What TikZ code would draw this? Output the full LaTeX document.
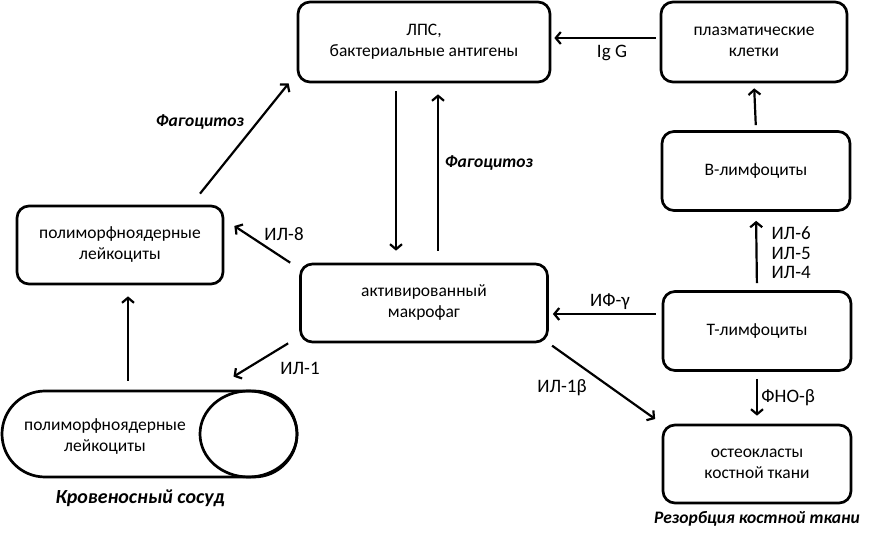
\documentclass[tikz,border=0pt]{standalone}
\usepackage{fontspec}
\setmainfont{Carlito}
\usetikzlibrary{arrows.meta,shapes.geometric}

\begin{document}
\begin{tikzpicture}[x=1pt,y=-1pt,
  box/.style={draw,line width=2.7pt,rounded corners=12pt,align=center,font=\fontsize{17.5}{21}\selectfont},
  arr/.style={line width=2.2pt,-{Straight Barb[length=5pt,width=12pt]}},
  lab/.style={font=\fontsize{19}{21}\selectfont},
  ital/.style={font=\fontsize{17.5}{19}\selectfont\bfseries\itshape}]
\useasboundingbox (0,0) rectangle (884,537);
% boxes
\node[box,minimum width=252,minimum height=80] (lps) at (424,42) {ЛПС,\\бактериальные антигены};
\node[box,minimum width=186,minimum height=80] (plasma) at (754,42) {плазматические\\клетки};
\node[box,minimum width=188,minimum height=79] (blym) at (756,171) {В-лимфоциты};
\node[box,minimum width=188,minimum height=79] (tlym) at (757,331) {Т-лимфоциты};
\node[box,minimum width=188,minimum height=78] (osteo) at (757,464) {остеокласты\\костной ткани};
\node[box,minimum width=247,minimum height=78] (macro) at (424,303) {активированный\\макрофаг};
\node[box,minimum width=206,minimum height=78] (pmn) at (120,245) {полиморфноядерные\\лейкоциты};
% vessel
\node[draw,line width=2.7pt,rounded corners=43pt,minimum width=295,minimum height=86] (vessel) at (149.5,434) {};
\node[draw,line width=2.7pt,ellipse,minimum width=97,minimum height=86] (lumen) at (248.5,434) {};
\node[align=center,font=\fontsize{17.5}{21}\selectfont] (vtext) at (105,437) {полиморфноядерные\\лейкоциты};
\node[ital,font=\fontsize{20}{22}\selectfont\bfseries\itshape] (vlab) at (140,498) {Кровеносный сосуд};
\node[ital] (rlab) at (757,519) {Резорбция костной ткани};
% arrows
\draw[arr,shorten <=4pt,shorten >=3pt] ([yshift=4pt]plasma.west) -- ([yshift=4pt]lps.east |- plasma.west);
\node[lab] (igg) at (612,53) {Ig G};
\draw[arr,shorten <=5pt,shorten >=5pt] (blym.north) -- (plasma.south);
\draw[arr,shorten <=7pt,shorten >=9pt] (tlym.north) -- (blym.south);
\foreach \n [count=\i] in {6,5,4}
\node[lab,right] (il\n) at (768,{214+19.5*\i}) {ИЛ-\n};
\draw[arr,shorten <=6pt,shorten >=4pt] ([yshift=17pt]tlym.west) -- ([yshift=17pt]tlym.west -| macro.east);
\node[lab] (ifg) at (610,302) {ИФ-γ};
\draw[arr,shorten <=7pt,shorten >=8pt] (tlym.south) -- (osteo.north) node[lab,midway,right] (tnf) {ФНО-β};
\draw[arr,shorten <=4pt,shorten >=8pt] (macro.south east) -- (osteo.north west);
\node[lab] (il1b) at (562,388) {ИЛ-1β};
\draw[arr] ([xshift=-9pt]macro.north west) -- ([shift={(10pt,19pt)}]pmn.east);
\node[lab] (il8) at (284,234) {ИЛ-8};
\draw[arr] ([xshift=-11pt]macro.south west) -- ([shift={(-15pt,13pt)}]lumen.north);
\node[lab] (il1) at (300,368) {ИЛ-1};
\draw[arr,shorten <=9pt,shorten >=11pt] ([xshift=8pt]pmn.south |- vessel.north) -- ([xshift=8pt]pmn.south);
\draw[arr] ([xshift=80pt,yshift=11pt]pmn.north) -- ([shift={(-8pt,0pt)}]lps.south west);
\node[ital] (fag1) at (200,122) {Фагоцитоз};
\draw[arr,shorten <=8pt,shorten >=12pt] ([xshift=-28pt]lps.south) -- ([xshift=-28pt]macro.north);
\draw[arr,shorten <=12pt,shorten >=11pt] ([xshift=14pt]macro.north) -- ([xshift=14pt]lps.south);
\node[ital] (fag2) at (489,163) {Фагоцитоз};
\end{tikzpicture}
\end{document}
